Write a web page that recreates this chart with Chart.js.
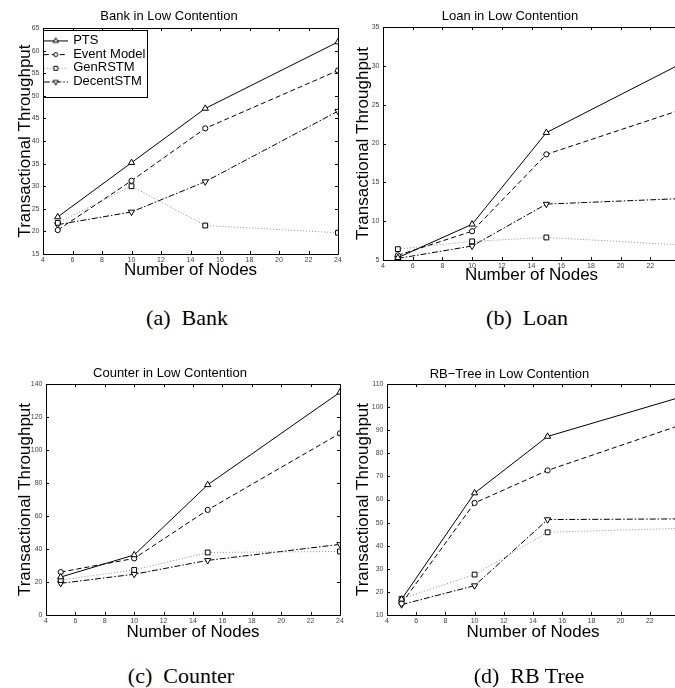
<!DOCTYPE html>
<html>
<head>
<meta charset="utf-8">
<script src="https://cdn.jsdelivr.net/npm/chart.js@4.4.1/dist/chart.umd.min.js"></script>
<style>
html, body { margin: 0; padding: 0; background: #fff; }
body { width: 675px; height: 688px; overflow: hidden; position: relative; }
canvas { position: absolute; }
.cap { position: absolute; font-family: "Liberation Serif", serif; font-size: 22px; color: #000;
       transform: translate(-50%, -50%); white-space: nowrap; }
</style>
</head>
<body>
<canvas id="bank" width="345" height="290" style="left:0;top:0"></canvas>
<canvas id="loan" width="345" height="290" style="left:340px;top:0"></canvas>
<canvas id="counter" width="345" height="300" style="left:0;top:350px"></canvas>
<canvas id="rbtree" width="345" height="300" style="left:340px;top:350px"></canvas>
<div class="cap" style="left:187px;top:318px">(a)&nbsp; Bank</div>
<div class="cap" style="left:527px;top:318px">(b)&nbsp; Loan</div>
<div class="cap" style="left:181px;top:676px">(c)&nbsp; Counter</div>
<div class="cap" style="left:529px;top:676px">(d)&nbsp; RB Tree</div>
<script>
// x values (number of nodes)
var nodes = [5, 10, 15, 24];
var seriesNames = ['PTS', 'Event Model', 'GenRSTM', 'DecentSTM'];

var bankPTS = [23.2, 35.2, 47.2, 61.9];
var bankEvent = [20.3, 31.2, 42.8, 55.6];
var bankGenRSTM = [21.9, 30.0, 21.3, 19.7];
var bankDecentSTM = [21.5, 24.3, 31.0, 46.6];

var loanPTS = [5.3, 9.6, 21.4, 30.2];
var loanEvent = [5.6, 8.7, 18.6, 24.3];
var loanGenRSTM = [6.4, 7.4, 7.9, 6.95];
var loanDecentSTM = [5.2, 6.8, 12.2, 12.9];

var counterPTS = [23.0, 36.4, 78.9, 135.0];
var counterEvent = [26.0, 34.3, 63.7, 110.1];
var counterGenRSTM = [21.2, 27.3, 37.9, 38.5];
var counterDecentSTM = [19.2, 24.7, 33.1, 42.8];

var rbPTS = [16.8, 62.8, 87.3, 104.1];
var rbEvent = [15.0, 58.5, 72.6, 92.0];
var rbGenRSTM = [17.0, 27.5, 45.8, 47.5];
var rbDecentSTM = [14.5, 22.7, 51.3, 51.6];

// line / marker look for each series
var styles = [
    { color: '#000', dash: [], pointStyle: 'triangle', radius: 3.6, rotation: 0 },
    { color: '#000', dash: [5, 3], pointStyle: 'circle', radius: 2.6, rotation: 0 },
    { color: '#8c8c8c', dash: [1, 2], pointStyle: 'rect', radius: 3.4, rotation: 0 },
    { color: '#000', dash: [6, 2, 1.5, 2], pointStyle: 'triangle', radius: 3.6, rotation: 180 }
];

Chart.defaults.font.family = "'Liberation Sans', Arial, sans-serif";

function glyph(st) {
    var c = document.createElement('canvas');
    c.width = 24; c.height = 10;
    var g = c.getContext('2d');
    g.strokeStyle = st.color;
    g.lineWidth = 1;
    g.setLineDash(st.dash);
    g.beginPath(); g.moveTo(0, 5.5); g.lineTo(24, 5.5); g.stroke();
    g.setLineDash([]);
    g.fillStyle = '#fff';
    g.strokeStyle = '#000';
    Chart.helpers.drawPoint(g, { pointStyle: st.pointStyle, radius: st.radius - 0.6, rotation: st.rotation, borderWidth: 1 }, 12, 5.5);
    return c;
}
var glyphs = styles.map(glyph);

// box + inward ticks, matlab style
var framePlugin = {
    id: 'frame',
    beforeDatasetsDraw: function(chart) {
        var a = chart.chartArea, ctx = chart.ctx, xs = chart.scales.x, ys = chart.scales.y;
        ctx.save();
        ctx.strokeStyle = '#000';
        ctx.lineWidth = 1;
        ctx.beginPath();
        ctx.rect(Math.round(a.left) + 0.5, Math.round(a.top) + 0.5, Math.round(a.right - a.left), Math.round(a.bottom - a.top));
        var t = 3;
        xs.ticks.forEach(function(tk) {
            var x = Math.round(xs.getPixelForValue(tk.value)) + 0.5;
            ctx.moveTo(x, a.bottom); ctx.lineTo(x, a.bottom - t);
            ctx.moveTo(x, a.top); ctx.lineTo(x, a.top + t);
        });
        ys.ticks.forEach(function(tk) {
            var y = Math.round(ys.getPixelForValue(tk.value)) + 0.5;
            ctx.moveTo(a.left, y); ctx.lineTo(a.left + t, y);
            ctx.moveTo(a.right, y); ctx.lineTo(a.right - t, y);
        });
        ctx.stroke();
        ctx.restore();
    }
};

var legendPlugin = {
    id: 'legendBox',
    afterLayout: function(chart) {
        var lg = chart.legend;
        if (!lg || !lg.options.display) return;
        var w = lg.width;
        lg.left = chart.chartArea.left + 1;
        lg.right = lg.left + w;
        lg.top = chart.chartArea.top + 5.2;
        lg.bottom = lg.top + 150;
    },
    afterDraw: function(chart) {
        var lg = chart.legend;
        if (!lg || !lg.options.display) return;
        var hb = lg.legendHitBoxes, right = 0;
        hb.forEach(function(h) { right = Math.max(right, h.left + h.width); });
        var last = hb[hb.length - 1];
        var ctx = chart.ctx;
        ctx.save();
        ctx.strokeStyle = '#000';
        ctx.lineWidth = 1;
        var x0 = Math.round(chart.chartArea.left) + 0.5;
        var y0 = Math.round(hb[0].top - 4) + 0.5;
        var y1 = Math.round(last.top + last.height + 8.5) + 0.5;
        ctx.strokeRect(x0, y0, Math.round(right + 2) - x0 + 0.5, y1 - y0);
        ctx.restore();
    }
};

function makeChart(p) {
    var ca = { l: p.area.l - p.left, t: p.area.t - p.top, r: p.area.r - p.left, b: p.area.b - p.top };
    var titleTop = p.titleY - p.top - 7.8;
    var datasets = p.values.map(function(vals, i) {
        var st = styles[i];
        return {
            label: seriesNames[i],
            data: nodes.map(function(n, k) { return { x: n, y: vals[k] }; }),
            borderColor: st.color,
            borderWidth: 1,
            borderDash: st.dash,
            tension: 0,
            pointStyle: st.pointStyle,
            pointRadius: st.radius,
            pointRotation: st.rotation,
            pointBackgroundColor: '#fff',
            pointBorderColor: '#000',
            pointBorderWidth: 1
        };
    });
    return new Chart(document.getElementById(p.id), {
        type: 'line',
        data: { datasets: datasets },
        plugins: [framePlugin, legendPlugin],
        options: {
            responsive: false,
            animation: false,
            events: [],
            layout: { padding: { left: 0, top: 0, right: p.w - ca.r, bottom: 0 } },
            plugins: {
                title: {
                    display: true,
                    text: p.title,
                    color: '#000',
                    font: { size: 13, weight: 'normal', lineHeight: 1.2 },
                    padding: { top: titleTop, bottom: ca.t - 15.6 - titleTop }
                },
                legend: {
                    display: p.legend,
                    position: 'chartArea',
                    align: 'start',
                    labels: {
                        usePointStyle: true,
                        pointStyleWidth: 22,
                        boxHeight: 8,
                        padding: 0.7,
                        color: '#000',
                        font: { size: 13 },
                        generateLabels: function(chart) {
                            return chart.data.datasets.map(function(ds, i) {
                                return { text: ds.label, pointStyle: glyphs[i], datasetIndex: i, hidden: false,
                                         lineWidth: 0, strokeStyle: 'rgba(0,0,0,0)', fillStyle: 'rgba(0,0,0,0)', rotation: 0 };
                            });
                        }
                    }
                },
                tooltip: { enabled: false }
            },
            scales: {
                x: {
                    type: 'linear',
                    min: 4,
                    max: 24,
                    grid: { display: false, drawTicks: false },
                    border: { display: false },
                    ticks: { stepSize: 2, autoSkip: false, maxRotation: 0, padding: 1.5, color: '#444', font: { size: 7 } },
                    title: {
                        display: true,
                        text: 'Number of Nodes',
                        color: '#000',
                        font: { size: 17, lineHeight: 1 },
                        padding: { top: 0, bottom: p.h - (p.xTitleY - p.top) - 8.5 }
                    },
                    afterFit: function(s) { s.height = p.h - ca.b; s.paddingLeft = 0; s.paddingRight = 0; }
                },
                y: {
                    min: p.yMin,
                    max: p.yMax,
                    grid: { display: false, drawTicks: false },
                    border: { display: false },
                    ticks: { stepSize: p.yStep, autoSkip: false, padding: 3.5, color: '#444', font: { size: 7 } },
                    title: {
                        display: true,
                        text: 'Transactional Throughput',
                        color: '#000',
                        font: { size: 17, lineHeight: 1 },
                        padding: { top: p.yTitleX - p.left - 8.5, bottom: 0 }
                    },
                    afterFit: function(s) { s.width = ca.l; s.paddingTop = 0; s.paddingBottom = 0; }
                }
            }
        }
    });
}

var panels = [
    { id: 'bank', title: 'Bank in Low Contention', values: [bankPTS, bankEvent, bankGenRSTM, bankDecentSTM],
      yMin: 15, yMax: 65, yStep: 5, legend: true, left: 0, top: 0, w: 345, h: 290,
      area: { l: 43, t: 28, r: 338, b: 254 }, titleY: 16, xTitleY: 270, yTitleX: 25 },
    { id: 'loan', title: 'Loan in Low Contention', values: [loanPTS, loanEvent, loanGenRSTM, loanDecentSTM],
      yMin: 5, yMax: 35, yStep: 5, legend: false, left: 340, top: 0, w: 345, h: 290,
      area: { l: 383, t: 27, r: 680, b: 260 }, titleY: 16.3, xTitleY: 275, yTitleX: 363 },
    { id: 'counter', title: 'Counter in Low Contention', values: [counterPTS, counterEvent, counterGenRSTM, counterDecentSTM],
      yMin: 0, yMax: 140, yStep: 20, legend: false, left: 0, top: 350, w: 345, h: 300,
      area: { l: 46, t: 384, r: 340, b: 615 }, titleY: 373.5, xTitleY: 632, yTitleX: 25 },
    { id: 'rbtree', title: 'RB\u2212Tree in Low Contention', values: [rbPTS, rbEvent, rbGenRSTM, rbDecentSTM],
      yMin: 10, yMax: 110, yStep: 10, legend: false, left: 340, top: 350, w: 345, h: 300,
      area: { l: 387, t: 384, r: 679, b: 615 }, titleY: 374, xTitleY: 632, yTitleX: 363 }
];

panels.forEach(makeChart);
</script>
</body>
</html>
